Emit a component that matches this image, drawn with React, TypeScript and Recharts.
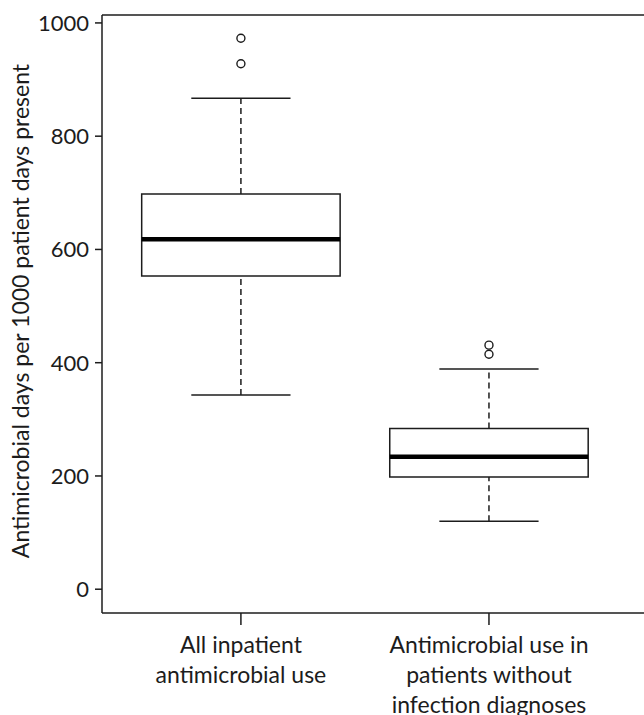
import React from 'react';
import {
  ComposedChart,
  XAxis,
  YAxis,
  ReferenceArea,
  ReferenceLine,
  Scatter,
  Label,
} from 'recharts';

const categories = [
  ['All inpatient', 'antimicrobial use'],
  ['Antimicrobial use in', 'patients without', 'infection diagnoses'],
];
const positions = [1, 2];
const q1 = [553, 198];
const median = [618, 234];
const q3 = [698, 284];
const whiskerLow = [343, 120];
const whiskerHigh = [867, 389];
const outliers = [
  [973, 928],
  [431, 415],
];
const yTicks = [0, 200, 400, 600, 800, 1000];

const Y_MIN = -42;
const Y_MAX = 1014;
const BOX_HALF = 0.4;
const CAP_HALF = 0.2;
const INK = '#1c1c1c';
const FONT = 'Lato, "Open Sans", sans-serif';

const outlierData = outliers.flatMap((vals, i) =>
  vals.map((y) => ({ x: positions[i], y }))
);

function CategoryTick(props: any) {
  const { x, y, payload } = props;
  const idx = positions.indexOf(payload.value);
  const lines = idx >= 0 ? categories[idx] : [];
  return (
    <text x={x} y={y} textAnchor="middle" fill={INK} fontSize={23} fontFamily={FONT}>
      {lines.map((line, i) => (
        <tspan key={i} x={x} dy={i === 0 ? 28 : 30}>
          {line}
        </tspan>
      ))}
    </text>
  );
}

function OutlierDot(props: any) {
  const { cx, cy } = props;
  return <circle cx={cx} cy={cy} r={4} fill="none" stroke={INK} strokeWidth={1.4} />;
}

export default function App() {
  return (
    <div style={{ position: 'absolute', left: 0, top: 0, background: '#fff' }}>
      <ComposedChart
        width={644}
        height={715}
        data={outlierData}
        margin={{ top: 15, right: 0, bottom: 0, left: 0 }}
      >
        <XAxis
          type="number"
          dataKey="x"
          domain={[0.44, 2.625]}
          allowDataOverflow
          ticks={positions}
          tick={<CategoryTick />}
          tickSize={12}
          tickMargin={0}
          height={102}
          stroke={INK}
          strokeWidth={1.5}
          interval={0}
        />
        <YAxis
          type="number"
          dataKey="y"
          domain={[Y_MIN, Y_MAX]}
          allowDataOverflow
          ticks={yTicks}
          width={102}
          tickSize={7}
          tickMargin={6}
          stroke={INK}
          strokeWidth={1.5}
          tick={{ fill: INK, fontSize: 22, fontFamily: FONT }}
          interval={0}
        >
          <Label
            content={() => (
              <text
                x={29}
                y={311}
                transform="rotate(-90, 29, 311)"
                textAnchor="middle"
                fill={INK}
                fontSize={23}
                fontFamily={FONT}
              >
                Antimicrobial days per 1000 patient days present
              </text>
            )}
          />
        </YAxis>

        <ReferenceLine y={Y_MAX} stroke={INK} strokeWidth={1.5} ifOverflow="visible" />

        {positions.map((p, i) => (
          <ReferenceLine
            key={`wl${i}`}
            segment={[
              { x: p, y: whiskerLow[i] },
              { x: p, y: q1[i] },
            ]}
            stroke={INK}
            strokeWidth={1.5}
            strokeDasharray="6 4"
          />
        ))}
        {positions.map((p, i) => (
          <ReferenceLine
            key={`wh${i}`}
            segment={[
              { x: p, y: q3[i] },
              { x: p, y: whiskerHigh[i] },
            ]}
            stroke={INK}
            strokeWidth={1.5}
            strokeDasharray="6 4"
          />
        ))}
        {positions.map((p, i) => (
          <ReferenceLine
            key={`cl${i}`}
            segment={[
              { x: p - CAP_HALF, y: whiskerLow[i] },
              { x: p + CAP_HALF, y: whiskerLow[i] },
            ]}
            stroke={INK}
            strokeWidth={1.5}
          />
        ))}
        {positions.map((p, i) => (
          <ReferenceLine
            key={`ch${i}`}
            segment={[
              { x: p - CAP_HALF, y: whiskerHigh[i] },
              { x: p + CAP_HALF, y: whiskerHigh[i] },
            ]}
            stroke={INK}
            strokeWidth={1.5}
          />
        ))}
        {positions.map((p, i) => (
          <ReferenceArea
            key={`box${i}`}
            x1={p - BOX_HALF}
            x2={p + BOX_HALF}
            y1={q1[i]}
            y2={q3[i]}
            fill="#fff"
            fillOpacity={1}
            stroke={INK}
            strokeWidth={1.5}
          />
        ))}
        {positions.map((p, i) => (
          <ReferenceLine
            key={`med${i}`}
            segment={[
              { x: p - BOX_HALF, y: median[i] },
              { x: p + BOX_HALF, y: median[i] },
            ]}
            stroke="#000"
            strokeWidth={4.5}
          />
        ))}

        <Scatter dataKey="y" shape={<OutlierDot />} isAnimationActive={false} />
      </ComposedChart>
    </div>
  );
}
